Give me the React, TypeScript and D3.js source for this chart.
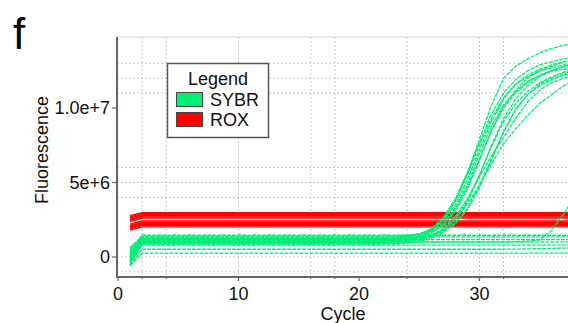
import React from 'react';
import * as d3 from 'd3';

// Cycle numbers (x values)
const cycles = [1, 2, 3, 4, 5, 6, 7, 8, 9, 10, 11, 12, 13, 14, 15, 16, 17, 18, 19, 20, 21, 22, 23, 24, 25, 26, 27, 28, 29, 30, 31, 32, 33, 34, 35, 36, 37, 38];

// SYBR fluorescence (millions) per cycle
const sybr01 = [0.1, 1.15, 1.15, 1.15, 1.15, 1.15, 1.15, 1.15, 1.15, 1.15, 1.15, 1.15, 1.15, 1.15, 1.15, 1.15, 1.15, 1.15, 1.15, 1.15, 1.15, 1.17, 1.22, 1.32, 1.47, 1.82, 2.5, 3.8, 5.6, 7.9, 10.2, 12.0, 12.8, 13.3, 13.7, 14.0, 14.2, 14.4];
const sybr02 = [0.3, 1.2, 1.2, 1.2, 1.2, 1.2, 1.2, 1.2, 1.2, 1.2, 1.2, 1.2, 1.2, 1.2, 1.2, 1.2, 1.2, 1.2, 1.2, 1.2, 1.2, 1.22, 1.26, 1.35, 1.52, 1.9, 2.65, 3.9, 5.7, 7.7, 9.6, 11.0, 11.9, 12.5, 12.9, 13.1, 13.3, 13.4];
const sybr03 = [-0.2, 1.05, 1.05, 1.05, 1.05, 1.05, 1.05, 1.05, 1.05, 1.05, 1.05, 1.05, 1.05, 1.05, 1.05, 1.05, 1.05, 1.05, 1.05, 1.05, 1.05, 1.07, 1.11, 1.2, 1.37, 1.75, 2.5, 3.75, 5.5, 7.5, 9.3, 10.7, 11.6, 12.1, 12.5, 12.7, 12.9, 13.0];
const sybr04 = [0.5, 1.3, 1.3, 1.3, 1.3, 1.3, 1.3, 1.3, 1.3, 1.3, 1.3, 1.3, 1.3, 1.3, 1.3, 1.3, 1.3, 1.3, 1.3, 1.3, 1.3, 1.31, 1.34, 1.42, 1.56, 1.85, 2.45, 3.5, 5.2, 7.2, 9.1, 10.6, 11.6, 12.2, 12.6, 12.9, 13.1, 13.2];
const sybr05 = [-0.4, 0.95, 0.95, 0.95, 0.95, 0.95, 0.95, 0.95, 0.95, 0.95, 0.95, 0.95, 0.95, 0.95, 0.95, 0.95, 0.95, 0.95, 0.95, 0.95, 0.95, 0.97, 1.02, 1.12, 1.28, 1.6, 2.2, 3.3, 4.9, 6.9, 8.8, 10.2, 11.1, 11.8, 12.2, 12.5, 12.6, 12.7];
const sybr06 = [0.2, 1.25, 1.25, 1.25, 1.25, 1.25, 1.25, 1.25, 1.25, 1.25, 1.25, 1.25, 1.25, 1.25, 1.25, 1.25, 1.25, 1.25, 1.25, 1.25, 1.25, 1.26, 1.28, 1.34, 1.46, 1.75, 2.3, 3.2, 4.7, 6.6, 8.5, 10.0, 11.0, 11.7, 12.2, 12.5, 12.8, 12.9];
const sybr07 = [0.0, 1.1, 1.1, 1.1, 1.1, 1.1, 1.1, 1.1, 1.1, 1.1, 1.1, 1.1, 1.1, 1.1, 1.1, 1.1, 1.1, 1.1, 1.1, 1.1, 1.1, 1.11, 1.14, 1.2, 1.33, 1.62, 2.15, 3.05, 4.55, 6.5, 8.5, 10.1, 11.2, 12.0, 12.5, 12.8, 13.1, 13.2];
const sybr08 = [0.6, 1.4, 1.4, 1.4, 1.4, 1.4, 1.4, 1.4, 1.4, 1.4, 1.4, 1.4, 1.4, 1.4, 1.4, 1.4, 1.4, 1.4, 1.4, 1.4, 1.4, 1.4, 1.42, 1.46, 1.54, 1.72, 2.07, 2.7, 3.85, 5.5, 7.4, 9.1, 10.3, 11.1, 11.7, 12.1, 12.4, 12.6];
const sybr09 = [-0.5, 0.9, 0.9, 0.9, 0.9, 0.9, 0.9, 0.9, 0.9, 0.9, 0.9, 0.9, 0.9, 0.9, 0.9, 0.9, 0.9, 0.9, 0.9, 0.9, 0.9, 0.91, 0.94, 1.0, 1.11, 1.35, 1.78, 2.5, 3.7, 5.5, 7.5, 9.3, 10.6, 11.5, 12.1, 12.5, 12.8, 13.0];
const sybr10 = [0.3, 1.2, 1.2, 1.2, 1.2, 1.2, 1.2, 1.2, 1.2, 1.2, 1.2, 1.2, 1.2, 1.2, 1.2, 1.2, 1.2, 1.2, 1.2, 1.2, 1.2, 1.2, 1.21, 1.24, 1.3, 1.42, 1.7, 2.25, 3.15, 4.65, 6.5, 8.4, 9.9, 10.9, 11.5, 11.9, 12.2, 12.4];
const sybr11 = [-0.3, 0.85, 0.85, 0.85, 0.85, 0.85, 0.85, 0.85, 0.85, 0.85, 0.85, 0.85, 0.85, 0.85, 0.85, 0.85, 0.85, 0.85, 0.85, 0.85, 0.85, 0.86, 0.88, 0.94, 1.05, 1.26, 1.65, 2.3, 3.3, 4.8, 6.6, 8.4, 9.9, 10.9, 11.6, 12.0, 12.3, 12.5];
const sybr12 = [0.1, 1.05, 1.05, 1.05, 1.05, 1.05, 1.05, 1.05, 1.05, 1.05, 1.05, 1.05, 1.05, 1.05, 1.05, 1.05, 1.05, 1.05, 1.05, 1.05, 1.05, 1.05, 1.07, 1.12, 1.22, 1.42, 1.82, 2.55, 3.55, 4.85, 6.25, 7.6, 8.6, 9.5, 10.3, 10.9, 11.5, 11.9];
const sybr13 = [-0.1, 0.95, 0.95, 0.95, 0.95, 0.95, 0.95, 0.95, 0.95, 0.95, 0.95, 0.95, 0.95, 0.95, 0.95, 0.95, 0.95, 0.95, 0.95, 0.95, 0.95, 0.96, 0.99, 1.06, 1.2, 1.45, 1.9, 2.7, 3.9, 5.4, 6.8, 8.0, 9.3, 10.4, 11.2, 11.7, 12.0, 12.2];
const sybr14 = [-0.1, 1.0, 1.0, 1.0, 1.0, 1.0, 1.0, 1.0, 1.0, 1.0, 1.0, 1.0, 1.0, 1.0, 1.0, 1.0, 1.0, 1.0, 1.0, 1.0, 1.0, 1.0, 1.0, 1.0, 1.0, 1.0, 1.0, 1.0, 1.0, 1.0, 1.0, 1.0, 1.02, 1.06, 1.15, 1.8, 2.9, 4.2];
const sybr15 = [0.4, 1.46, 1.46, 1.46, 1.46, 1.46, 1.46, 1.46, 1.46, 1.46, 1.46, 1.46, 1.46, 1.46, 1.46, 1.46, 1.46, 1.46, 1.46, 1.46, 1.46, 1.46, 1.46, 1.46, 1.46, 1.46, 1.46, 1.46, 1.46, 1.46, 1.46, 1.46, 1.46, 1.46, 1.46, 1.46, 1.46, 1.46];
const sybr16 = [0.2, 1.35, 1.35, 1.35, 1.35, 1.35, 1.35, 1.35, 1.35, 1.35, 1.35, 1.35, 1.35, 1.35, 1.35, 1.35, 1.35, 1.35, 1.35, 1.35, 1.35, 1.35, 1.35, 1.35, 1.35, 1.35, 1.35, 1.35, 1.35, 1.35, 1.35, 1.35, 1.35, 1.35, 1.35, 1.35, 1.35, 1.35];
const sybr17 = [0.0, 1.16, 1.16, 1.16, 1.16, 1.16, 1.16, 1.16, 1.16, 1.16, 1.16, 1.16, 1.16, 1.16, 1.16, 1.16, 1.16, 1.16, 1.16, 1.16, 1.16, 1.16, 1.16, 1.16, 1.16, 1.16, 1.16, 1.16, 1.16, 1.16, 1.16, 1.16, 1.16, 1.16, 1.16, 1.16, 1.16, 1.16];
const sybr18 = [-0.2, 1.02, 1.02, 1.02, 1.02, 1.02, 1.02, 1.02, 1.02, 1.02, 1.02, 1.02, 1.02, 1.02, 1.02, 1.02, 1.02, 1.02, 1.02, 1.02, 1.02, 1.02, 1.02, 1.02, 1.02, 1.02, 1.02, 1.02, 1.02, 1.02, 1.02, 1.02, 1.02, 1.02, 1.02, 1.02, 1.02, 1.02];
const sybr19 = [-0.3, 0.8, 0.8, 0.8, 0.8, 0.8, 0.8, 0.8, 0.8, 0.8, 0.8, 0.8, 0.8, 0.8, 0.8, 0.8, 0.8, 0.8, 0.8, 0.8, 0.8, 0.8, 0.8, 0.8, 0.8, 0.8, 0.8, 0.8, 0.8, 0.8, 0.8, 0.8, 0.8, 0.8, 0.8, 0.8, 0.8, 0.8];
const sybr20 = [-0.55, 0.52, 0.52, 0.52, 0.52, 0.52, 0.52, 0.52, 0.52, 0.52, 0.52, 0.52, 0.52, 0.52, 0.52, 0.52, 0.52, 0.52, 0.52, 0.52, 0.52, 0.52, 0.52, 0.52, 0.52, 0.52, 0.52, 0.52, 0.52, 0.52, 0.52, 0.52, 0.53, 0.54, 0.56, 0.58, 0.6, 0.62];
const sybr21 = [-0.6, 0.26, 0.26, 0.26, 0.26, 0.26, 0.26, 0.26, 0.26, 0.26, 0.26, 0.26, 0.26, 0.26, 0.26, 0.26, 0.26, 0.26, 0.26, 0.26, 0.26, 0.26, 0.26, 0.26, 0.26, 0.26, 0.26, 0.26, 0.26, 0.26, 0.26, 0.26, 0.26, 0.26, 0.26, 0.26, 0.26, 0.26];
const sybrFaint = [0.7, 1.55, 1.55, 1.55, 1.55, 1.55, 1.55, 1.55, 1.55, 1.55, 1.55, 1.55, 1.55, 1.55, 1.55, 1.55, 1.55, 1.55, 1.55, 1.55, 1.55, 1.55, 1.55, 1.55, 1.55, 1.55, 1.55, 1.55, 1.55, 1.55, 1.55, 1.55, 1.55, 1.55, 1.55, 1.55, 1.55, 1.55];

// ROX fluorescence (millions) per cycle
const rox01 = [2.78, 2.97, 2.97, 2.97, 2.97, 2.97, 2.97, 2.97, 2.97, 2.97, 2.97, 2.97, 2.97, 2.97, 2.97, 2.97, 2.97, 2.97, 2.97, 2.97, 2.97, 2.97, 2.97, 2.97, 2.97, 2.97, 2.97, 2.97, 2.97, 2.97, 2.97, 2.97, 2.97, 2.97, 2.97, 2.97, 2.97, 2.97];
const rox02 = [2.7, 2.91, 2.91, 2.91, 2.91, 2.91, 2.91, 2.91, 2.91, 2.91, 2.91, 2.91, 2.91, 2.91, 2.91, 2.91, 2.91, 2.91, 2.91, 2.91, 2.91, 2.91, 2.91, 2.91, 2.91, 2.91, 2.91, 2.91, 2.91, 2.91, 2.91, 2.91, 2.91, 2.91, 2.91, 2.91, 2.91, 2.91];
const rox03 = [2.62, 2.85, 2.85, 2.85, 2.85, 2.85, 2.85, 2.85, 2.85, 2.85, 2.85, 2.85, 2.85, 2.85, 2.85, 2.85, 2.85, 2.85, 2.85, 2.85, 2.85, 2.85, 2.85, 2.85, 2.85, 2.85, 2.85, 2.85, 2.85, 2.85, 2.85, 2.85, 2.85, 2.85, 2.85, 2.85, 2.85, 2.85];
const rox04 = [2.55, 2.79, 2.79, 2.79, 2.79, 2.79, 2.79, 2.79, 2.79, 2.79, 2.79, 2.79, 2.79, 2.79, 2.79, 2.79, 2.79, 2.79, 2.79, 2.79, 2.79, 2.79, 2.79, 2.79, 2.79, 2.79, 2.79, 2.79, 2.79, 2.79, 2.79, 2.79, 2.79, 2.79, 2.79, 2.79, 2.79, 2.79];
const rox05 = [2.5, 2.74, 2.74, 2.74, 2.74, 2.74, 2.74, 2.74, 2.74, 2.74, 2.74, 2.74, 2.74, 2.74, 2.74, 2.74, 2.74, 2.74, 2.74, 2.74, 2.74, 2.74, 2.74, 2.74, 2.74, 2.74, 2.74, 2.74, 2.74, 2.74, 2.74, 2.74, 2.74, 2.74, 2.74, 2.74, 2.74, 2.74];
const rox06 = [2.45, 2.68, 2.68, 2.68, 2.68, 2.68, 2.68, 2.68, 2.68, 2.68, 2.68, 2.68, 2.68, 2.68, 2.68, 2.68, 2.68, 2.68, 2.68, 2.68, 2.68, 2.68, 2.68, 2.68, 2.68, 2.68, 2.68, 2.68, 2.68, 2.68, 2.68, 2.68, 2.68, 2.68, 2.68, 2.68, 2.68, 2.68];
const rox07 = [2.38, 2.61, 2.61, 2.61, 2.61, 2.61, 2.61, 2.61, 2.61, 2.61, 2.61, 2.61, 2.61, 2.61, 2.61, 2.61, 2.61, 2.61, 2.61, 2.61, 2.61, 2.61, 2.61, 2.61, 2.61, 2.61, 2.61, 2.61, 2.61, 2.61, 2.61, 2.61, 2.61, 2.61, 2.61, 2.61, 2.61, 2.61];
const rox08 = [2.2, 2.43, 2.43, 2.43, 2.43, 2.43, 2.43, 2.43, 2.43, 2.43, 2.43, 2.43, 2.43, 2.43, 2.43, 2.43, 2.43, 2.43, 2.43, 2.43, 2.43, 2.43, 2.43, 2.43, 2.43, 2.43, 2.43, 2.43, 2.43, 2.43, 2.43, 2.43, 2.43, 2.43, 2.43, 2.43, 2.43, 2.43];
const rox09 = [2.12, 2.36, 2.36, 2.36, 2.36, 2.36, 2.36, 2.36, 2.36, 2.36, 2.36, 2.36, 2.36, 2.36, 2.36, 2.36, 2.36, 2.36, 2.36, 2.36, 2.36, 2.36, 2.36, 2.36, 2.36, 2.36, 2.36, 2.36, 2.36, 2.36, 2.36, 2.36, 2.36, 2.36, 2.36, 2.36, 2.36, 2.36];
const rox10 = [2.05, 2.3, 2.3, 2.3, 2.3, 2.3, 2.3, 2.3, 2.3, 2.3, 2.3, 2.3, 2.3, 2.3, 2.3, 2.3, 2.3, 2.3, 2.3, 2.3, 2.3, 2.3, 2.3, 2.3, 2.3, 2.3, 2.3, 2.3, 2.3, 2.3, 2.3, 2.3, 2.3, 2.3, 2.3, 2.3, 2.3, 2.3];
const rox11 = [2.0, 2.24, 2.24, 2.24, 2.24, 2.24, 2.24, 2.24, 2.24, 2.24, 2.24, 2.24, 2.24, 2.24, 2.24, 2.24, 2.24, 2.24, 2.24, 2.24, 2.24, 2.24, 2.24, 2.24, 2.24, 2.24, 2.24, 2.24, 2.24, 2.24, 2.24, 2.24, 2.24, 2.24, 2.24, 2.24, 2.24, 2.24];
const rox12 = [1.95, 2.18, 2.18, 2.18, 2.18, 2.18, 2.18, 2.18, 2.18, 2.18, 2.18, 2.18, 2.18, 2.18, 2.18, 2.18, 2.18, 2.18, 2.18, 2.18, 2.18, 2.18, 2.18, 2.18, 2.18, 2.18, 2.18, 2.18, 2.18, 2.18, 2.18, 2.18, 2.18, 2.18, 2.18, 2.18, 2.18, 2.18];
const rox13 = [1.88, 2.1, 2.1, 2.1, 2.1, 2.1, 2.1, 2.1, 2.1, 2.1, 2.1, 2.1, 2.1, 2.1, 2.1, 2.1, 2.1, 2.1, 2.1, 2.1, 2.1, 2.1, 2.1, 2.1, 2.1, 2.1, 2.1, 2.1, 2.1, 2.1, 2.1, 2.1, 2.1, 2.1, 2.1, 2.1, 2.1, 2.1];
const rox14 = [1.8, 2.02, 2.02, 2.02, 2.02, 2.02, 2.02, 2.02, 2.02, 2.02, 2.02, 2.02, 2.02, 2.02, 2.02, 2.02, 2.02, 2.02, 2.02, 2.02, 2.02, 2.02, 2.02, 2.02, 2.02, 2.02, 2.02, 2.02, 2.02, 2.02, 2.02, 2.02, 2.02, 2.02, 2.02, 2.02, 2.02, 2.02];

const sybrSeries = [sybr01, sybr02, sybr03, sybr04, sybr05, sybr06, sybr07, sybr08, sybr09, sybr10, sybr11, sybr12, sybr13, sybr14, sybr15, sybr16, sybr17, sybr18, sybr19, sybr20, sybr21];
const roxSeries = [rox01, rox02, rox03, rox04, rox05, rox06, rox07, rox08, rox09, rox10, rox11, rox12, rox13, rox14];

const xTicks = [0, 10, 20, 30];
const yTicks = [0, 5e6, 1e7];
const yTickLabels = ['0', '5e+6', '1.0e+7'];
const xGrid = [2, 4, 10, 16, 18, 24, 30, 32, 38];
const yGrid = [-1e6, 0, 4e6, 5e6, 6e6, 11e6, 12e6, 13e6];
const legendLabels = ['SYBR', 'ROX'];

const SYBR_COLOR = '#00EE76';
const ROX_COLOR = '#FF0000';
const FONT = '"Liberation Sans", Arial, Helvetica, sans-serif';

export default function App() {
  const W = 568, H = 323;
  const left = 117, top = 37, bottom = 277, right = 568;
  const x = d3.scaleLinear().domain([0, 40]).range([118, 600]);
  const y = d3.scaleLinear().domain([0, 1e7]).range([257, 108]);
  const line = d3.line<number>()
    .x((_, i) => x(cycles[i]))
    .y((d) => y(d * 1e6));

  return (
    <svg width={W} height={H} style={{ position: 'absolute', left: 0, top: 0, background: '#fff' }} fontFamily={FONT}>
      <defs>
        <clipPath id="plotClip">
          <rect x={left} y={top} width={right - left} height={bottom - top} />
        </clipPath>
      </defs>
      <rect x={0} y={0} width={W} height={H} fill="#fff" />
      <text x={13} y={49} fontSize={44} fill="#000">f</text>

      {/* grid */}
      <g stroke="#c8c8c8" strokeWidth={1} strokeDasharray="2 2">
        {xGrid.map((g) => (
          <line key={'xg' + g} x1={x(g)} x2={x(g)} y1={top} y2={bottom} />
        ))}
        {yGrid.map((g) => (
          <line key={'yg' + g} x1={left} x2={right} y1={y(g)} y2={y(g)} />
        ))}
      </g>
      <line x1={left} x2={right} y1={top} y2={top} stroke="#cfcfcf" strokeWidth={1.2} />

      {/* series */}
      <g clipPath="url(#plotClip)" fill="none">
        {roxSeries.map((s, i) => (
          <path key={'r' + i} d={line(s) || ''} stroke={ROX_COLOR} strokeWidth={1.3} />
        ))}
        <path d={line(sybrFaint) || ''} stroke={SYBR_COLOR} strokeWidth={1} strokeOpacity={0.3} strokeDasharray="6 10" />
        {sybrSeries.map((s, i) => (
          <path key={'s' + i} d={line(s) || ''} stroke={SYBR_COLOR} strokeWidth={1.3} strokeDasharray="4 1" />
        ))}
      </g>

      {/* axes */}
      <g stroke="#666" strokeWidth={2}>
        <line x1={left} x2={left} y1={top} y2={bottom + 1} />
        <line x1={left - 1} x2={right} y1={bottom} y2={bottom} />
      </g>
      <g stroke="#666" strokeWidth={1.2}>
        {yTicks.map((t) => (
          <line key={'yt' + t} x1={left - 5} x2={left} y1={y(t)} y2={y(t)} />
        ))}
        {xTicks.map((t) => (
          <line key={'xt' + t} x1={x(t)} x2={x(t)} y1={bottom} y2={bottom + 4} />
        ))}
        {xGrid.map((t) => (
          <line key={'xm' + t} x1={x(t)} x2={x(t)} y1={bottom} y2={bottom + 2} />
        ))}
      </g>
      <g fontSize={18} fill="#111">
        {yTicks.map((t, i) => (
          <text key={'yl' + t} x={left - 7} y={y(t)} dy="0.35em" textAnchor="end">{yTickLabels[i]}</text>
        ))}
        {xTicks.map((t) => (
          <text key={'xl' + t} x={x(t)} y={300} textAnchor="middle">{t}</text>
        ))}
        <text x={343} y={320} textAnchor="middle">Cycle</text>
        <text transform="translate(48,150) rotate(-90)" textAnchor="middle">Fluorescence</text>
      </g>

      {/* legend */}
      <g>
        <rect x={167.5} y={63.5} width={101} height={74} fill="#fff" stroke="#555" strokeWidth={1.5} />
        <text x={218} y={85} textAnchor="middle" fontSize={18} fill="#111">Legend</text>
        {legendLabels.map((lab, i) => (
          <g key={lab}>
            <rect x={176.5} y={92.5 + i * 20} width={26} height={14} fill={i === 0 ? SYBR_COLOR : ROX_COLOR} stroke="#444" strokeWidth={1} />
            <text x={210} y={106 + i * 20} fontSize={18} fill="#111">{lab}</text>
          </g>
        ))}
      </g>
    </svg>
  );
}
